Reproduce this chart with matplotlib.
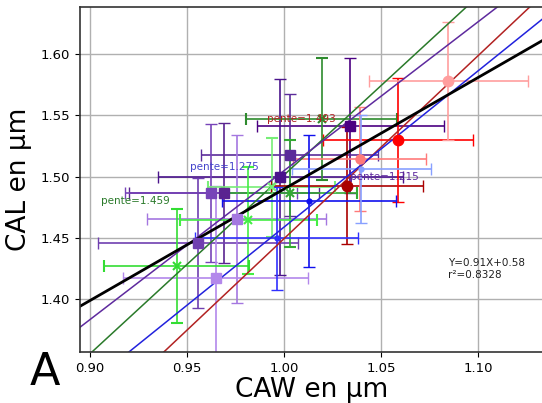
import numpy as np
import matplotlib
matplotlib.use("Agg")
import matplotlib.pyplot as plt

#%% Données : CAW (x) / CAL (y) avec barres d'erreur

# carrés violets
x_vio = [1.0341, 0.9979, 1.0028, 0.9691, 0.9624, 0.9556, 0.9755, 0.9647]
y_vio = [1.5414, 1.4998, 1.5175, 1.4867, 1.4867, 1.4458, 1.4656, 1.4172]
xe_vio = [0.048, 0.063, 0.0457, 0.049, 0.0443, 0.0514, 0.046, 0.0476]
ye_vio = [0.055, 0.080, 0.050, 0.057, 0.056, 0.053, 0.0686, 0.075]
c_vio = ['#4b0082', '#4a148c', '#5b2c9a', '#5a2490', '#7744b8', '#7040b0',
         '#a477e0', '#b388eb']

# croix vertes
x_ver = [1.0193, 1.0027, 0.9935, 0.9815, 0.9445]
y_ver = [1.5471, 1.4864, 1.4913, 1.4644, 1.4268]
xe_ver = [0.0388, 0.0347, 0.0326, 0.0352, 0.0371]
ye_ver = [0.050, 0.0436, 0.0406, 0.0436, 0.0464]
c_ver = ['#2e8b2e', '#33aa33', '#77ee77', '#44ee44', '#33dd33']

# ronds rouges
x_rou = [1.0323, 1.0585, 1.0388, 1.0845]
y_rou = [1.4927, 1.5297, 1.5145, 1.5779]
xe_rou = [0.0393, 0.0386, 0.0341, 0.041]
ye_rou = [0.0476, 0.0504, 0.0425, 0.048]
c_rou = ['#aa0000', '#ff0000', '#ff7a7a', '#ff9e9e']

# points bleus
x_ble = [1.0126, 0.9962, 1.0397]
y_ble = [1.4801, 1.4499, 1.5065]
xe_ble = [0.0447, 0.042, 0.0357]
ye_ble = [0.054, 0.042, 0.044]
c_ble = ['#1010ee', '#3030ff', '#88a0ff']

# droites par groupe (pente, ordonnée)
pentes = [1.459, 1.215, 1.493, 1.275]
ordonnees = [0.0425, 0.290, -0.0434, 0.184]
c_droites = ['#2a7a2a', '#5e2a9e', '#b22222', '#2222dd']
labels_pente = ['pente=1.459', 'pente=1.215', 'pente=1.493', 'pente=1.275']
pos_labels = [(0.9055, 1.4801), (1.0341, 1.4998), (0.991, 1.547), (0.9517, 1.5079)]
c_labels = ['#2a7a2a', '#5e2a9e', '#b22222', '#4444cc']

# régression globale
a_glob, b_glob = 0.91, 0.58
r2_glob = 0.8328

#%% Figure
fig = plt.figure(figsize=(5.42, 4.03), dpi=100)
ax = fig.add_axes([0.1476, 0.1266, 0.8562, 0.8568])

for i in range(len(x_vio)):
    ax.errorbar(x_vio[i], y_vio[i], xerr=xe_vio[i], yerr=ye_vio[i], fmt='s',
                color=c_vio[i], ms=6.5, capsize=4, elinewidth=1.2)
for i in range(len(x_ver)):
    ax.errorbar(x_ver[i], y_ver[i], xerr=xe_ver[i], yerr=ye_ver[i], fmt='x',
                color=c_ver[i], ms=6, mew=1.5, capsize=4, elinewidth=1.2)
for i in range(len(x_rou)):
    ms = 6.5 if i == 2 else 7.5
    ax.errorbar(x_rou[i], y_rou[i], xerr=xe_rou[i], yerr=ye_rou[i], fmt='o',
                color=c_rou[i], ms=ms, capsize=4, elinewidth=1.2)
for i in range(len(x_ble)):
    ax.errorbar(x_ble[i], y_ble[i], xerr=xe_ble[i], yerr=ye_ble[i], fmt='o',
                color=c_ble[i], ms=3.5, capsize=4, elinewidth=1.2)

xx = np.linspace(0.85, 1.2, 10)
for p, o, c in zip(pentes, ordonnees, c_droites):
    ax.plot(xx, p * xx + o, color=c, lw=1.1)
ax.plot(xx, a_glob * xx + b_glob, color='black', lw=2)

for lab, (tx, ty), c in zip(labels_pente, pos_labels, c_labels):
    ax.text(tx, ty, lab, color=c, fontsize=7.5, va='center', ha='left')

ax.text(1.0842, 1.4333, "Y=%.2fX+%.2f\nr²=%.4f" % (a_glob, b_glob, r2_glob),
        fontsize=7.5, va='top', ha='left', color='#222222')

ax.set_xlim(0.8948, 1.1338)
ax.set_ylim(1.357, 1.6386)
ax.set_xticks([0.90, 0.95, 1.00, 1.05, 1.10])
ax.set_yticks([1.40, 1.45, 1.50, 1.55, 1.60])
ax.grid(True, color='#b0b0b0', lw=1)
ax.set_axisbelow(True)
for s in ax.spines.values():
    s.set_linewidth(1.2)
    s.set_color('#333333')
ax.tick_params(labelsize=9.5)
ax.set_xlabel("CAW en µm", fontsize=19, labelpad=2)
ax.set_ylabel("CAL en µm", fontsize=19, labelpad=6)

fig.text(0.055, 0.045, "A", fontsize=32)

fig.savefig("out.png", dpi=100)
